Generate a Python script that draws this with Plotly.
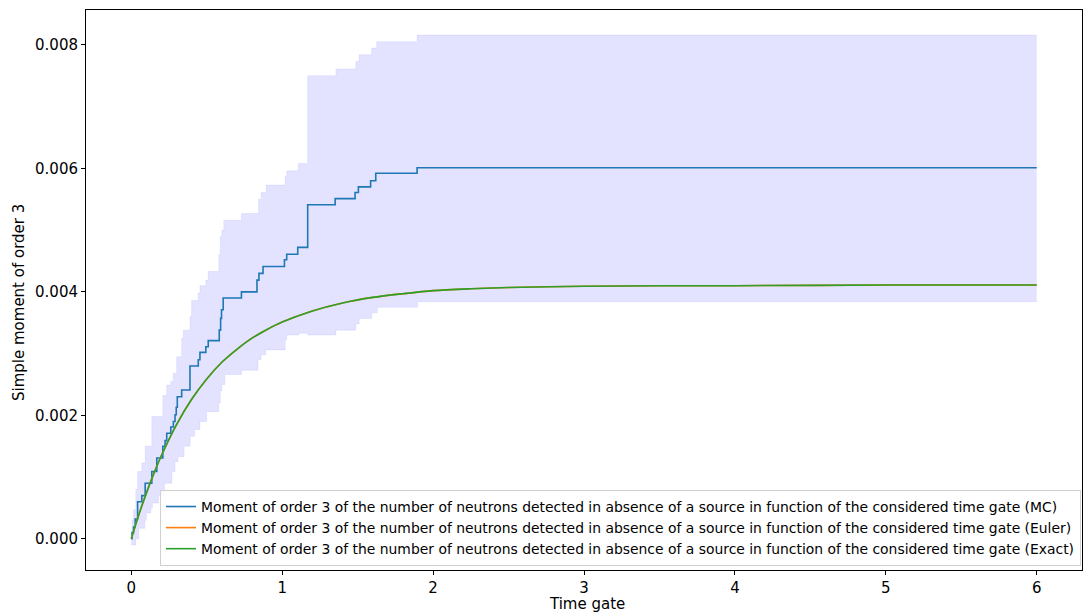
import plotly.graph_objects as go

# Monte Carlo estimate (step function)
mc_t = [0, 0.005, 0.015, 0.026, 0.042, 0.07, 0.092, 0.136, 0.169, 0.209, 0.224, 0.235,
        0.262, 0.279, 0.29, 0.298, 0.305, 0.334, 0.389, 0.444, 0.455, 0.494, 0.51,
        0.583, 0.592, 0.598, 0.609, 0.73, 0.833, 0.846, 0.873, 1.015, 1.03, 1.103,
        1.169, 1.351, 1.483, 1.505, 1.586, 1.62, 1.894, 6.0]
mc_v = [0, 0.0001, 0.00019, 0.00032, 0.0006, 0.0007, 0.0009, 0.00109, 0.00131, 0.0015,
        0.00159, 0.00171, 0.00181, 0.0019, 0.00201, 0.00213, 0.0023, 0.00241, 0.0028,
        0.0029, 0.00302, 0.00311, 0.00321, 0.00338, 0.00357, 0.00371, 0.0039, 0.004,
        0.00419, 0.0043, 0.00441, 0.00452, 0.00461, 0.00472, 0.00541, 0.00551, 0.00561,
        0.0057, 0.0058, 0.00592, 0.00601, 0.00601]

# confidence band edges (step functions)
up_t = [0, 0.005, 0.015, 0.03, 0.042, 0.07, 0.092, 0.136, 0.209, 0.235, 0.262, 0.279,
        0.301, 0.334, 0.345, 0.389, 0.4, 0.444, 0.455, 0.494, 0.51, 0.58, 0.59, 0.6,
        0.613, 0.73, 0.844, 0.861, 0.894, 1.02, 1.03, 1.107, 1.169, 1.356, 1.488, 1.51,
        1.593, 1.626, 1.894, 6.0]
up_v = [0.0001, 0.0003, 0.00047, 0.0008, 0.00109, 0.00123, 0.0015, 0.00198, 0.00232,
        0.00249, 0.00255, 0.00268, 0.00295, 0.00325, 0.00338, 0.0036, 0.00386, 0.00398,
        0.0041, 0.00419, 0.00433, 0.0046, 0.0049, 0.005, 0.00516, 0.00527, 0.0055,
        0.00561, 0.00573, 0.00587, 0.00596, 0.00608, 0.0075, 0.00761, 0.00773, 0.00784,
        0.00795, 0.00805, 0.00816, 0.00816]

lo_t = [0, 0.03, 0.05, 0.09, 0.1, 0.13, 0.14, 0.18, 0.22, 0.27, 0.29, 0.31, 0.35, 0.39,
        0.42, 0.455, 0.499, 0.58, 0.59, 0.6, 0.62, 0.73, 0.84, 0.86, 0.89, 1.02, 1.03,
        1.11, 1.169, 1.356, 1.488, 1.51, 1.593, 1.63, 1.898, 6.0]
lo_v = [-0.0001, 0.0, 0.00017, 0.0003, 0.00042, 0.0005, 0.00058, 0.00071, 0.0009,
        0.00109, 0.00125, 0.00133, 0.0015, 0.00166, 0.00177, 0.0019, 0.00206, 0.0022,
        0.0024, 0.0025, 0.00266, 0.00273, 0.0029, 0.00298, 0.00306, 0.00322, 0.0033,
        0.00333, 0.0033, 0.00338, 0.00348, 0.00357, 0.00366, 0.00375, 0.00384, 0.00384]

# deterministic curves (Euler and Exact overlap)
ex_t = [0, 0.05, 0.1, 0.15, 0.2, 0.3, 0.4, 0.5, 0.6, 0.7, 0.8, 0.9, 1.0, 1.2, 1.4, 1.6,
        1.8, 2.0, 2.25, 2.5, 3.0, 3.5, 4.0, 5.0, 6.0]
ex_v = [0, 0.00039, 0.00074, 0.00106, 0.00135, 0.00185, 0.00226, 0.00259, 0.00286,
        0.00307, 0.00325, 0.00339, 0.00351, 0.00369, 0.00382, 0.00391, 0.00397, 0.00402,
        0.00405, 0.00407, 0.00409, 0.0041, 0.0041, 0.00411, 0.00411]
eu_v = ex_v

label = "Moment of order 3 of the number of neutrons detected in absence of a source in function of the considered time gate"

fig = go.Figure()

band = "rgba(0,0,255,0.11)"
fig.add_trace(go.Scatter(x=lo_t, y=lo_v, mode="lines", line=dict(shape="hv", width=0.6, color=band),
                         showlegend=False, hoverinfo="skip"))
fig.add_trace(go.Scatter(x=up_t, y=up_v, mode="lines", line=dict(shape="hv", width=0.6, color=band),
                         fill="tonexty", fillcolor=band, showlegend=False, hoverinfo="skip"))

fig.add_trace(go.Scatter(x=mc_t, y=mc_v, mode="lines", name=label + " (MC)",
                         line=dict(shape="hv", width=1.6, color="#1f77b4")))
fig.add_trace(go.Scatter(x=ex_t, y=eu_v, mode="lines", name=label + " (Euler)",
                         line=dict(shape="spline", smoothing=0.8, width=1.6, color="#ff7f0e")))
fig.add_trace(go.Scatter(x=ex_t, y=ex_v, mode="lines", name=label + " (Exact)",
                         line=dict(shape="spline", smoothing=0.8, width=1.6, color="#2ca02c")))

axis_common = dict(showline=True, linecolor="black", linewidth=1, mirror=True, automargin=False,
                   ticks="outside", ticklen=4, tickcolor="black", showgrid=False, zeroline=False,
                   tickfont=dict(size=15, color="black"))

fig.update_layout(
    width=1083, height=614,
    margin=dict(l=86, r=1, t=10, b=44, autoexpand=False),
    plot_bgcolor="white", paper_bgcolor="white",
    font=dict(family="DejaVu Sans", color="black"),
    xaxis=dict(range=[-0.3, 6.3], tickvals=[0, 1, 2, 3, 4, 5, 6], **axis_common),
    yaxis=dict(range=[-0.000505, 0.008565], tickvals=[0, 0.002, 0.004, 0.006, 0.008],
               tickformat=".3f", **axis_common),
    legend=dict(x=(160 - 86) / 996, y=(570 - 566) / 560, xanchor="left", yanchor="bottom",
                traceorder="normal",
                bgcolor="rgba(255,255,255,0.8)", bordercolor="#d0d0d0", borderwidth=1,
                font=dict(size=13.9), tracegroupgap=0, itemwidth=30),
    annotations=[
        dict(text="Time gate", x=(586.5 - 86) / 996, y=-(604 - 570) / 560,
             xref="paper", yref="paper", yanchor="middle", showarrow=False,
             font=dict(size=15)),
        dict(text="Simple moment of order 3", x=-(86 - 19) / 996, y=(570 - 303) / 560,
             xref="paper", yref="paper", xanchor="center", showarrow=False, textangle=-90,
             font=dict(size=15)),
    ],
)

# drop the browser's default body margin so the figure sits at the page origin
fig.write_html("out.html", config={"displayModeBar": False},
               post_script="document.body.style.margin='0';")
